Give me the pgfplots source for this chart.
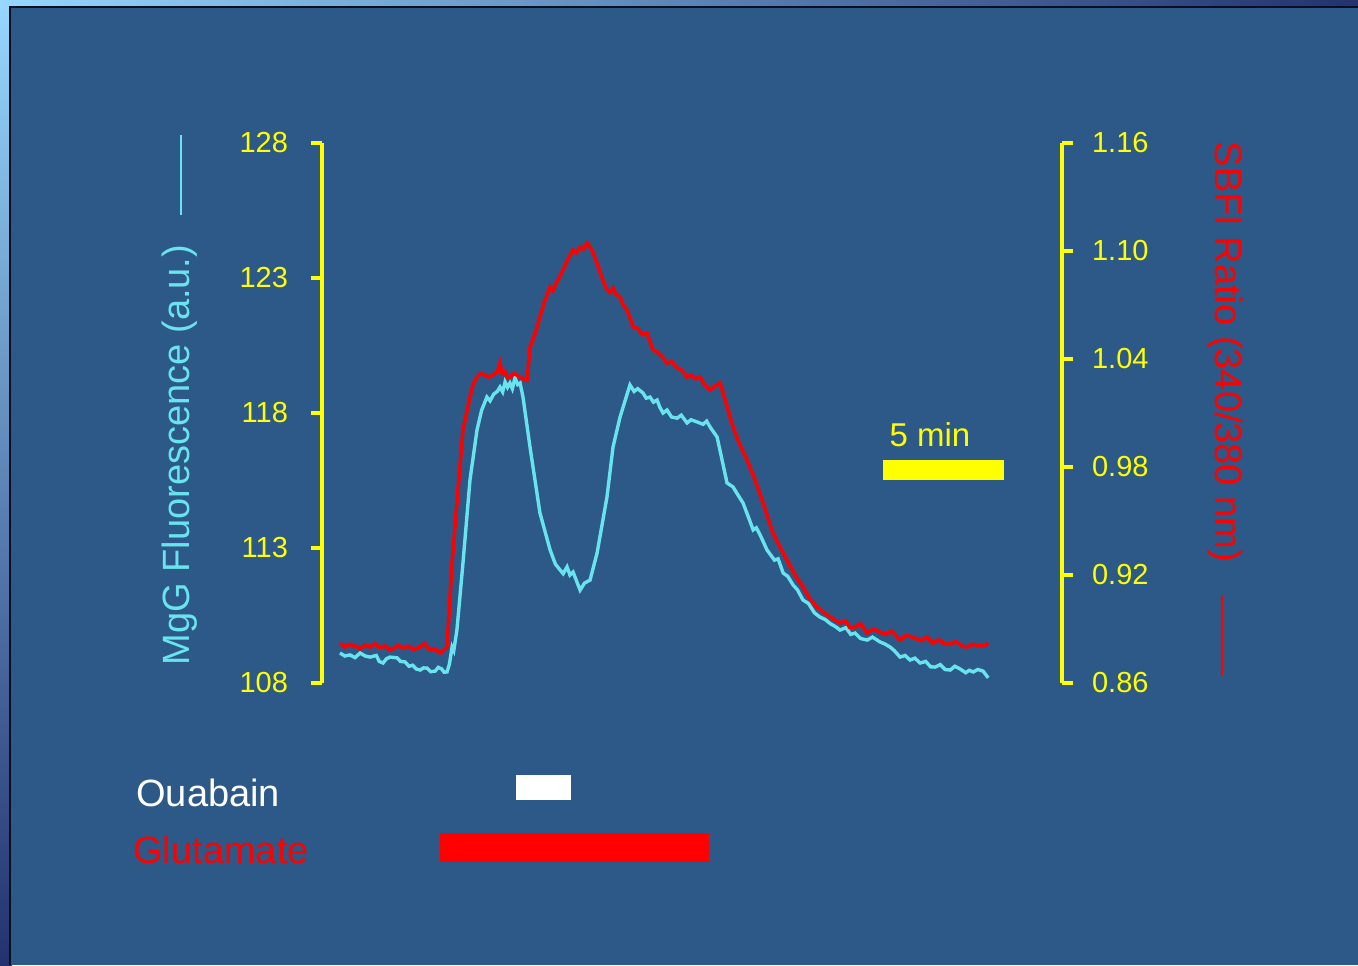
\documentclass[border=0pt]{standalone}
\usepackage{pgfplots}
\pgfplotsset{compat=1.18}
\usepackage{fontspec}
\setmainfont{Liberation Sans}
\definecolor{bg}{RGB}{44,89,135}
\definecolor{cy}{RGB}{105,228,238}
\definecolor{yl}{RGB}{255,255,0}
\definecolor{rd}{RGB}{255,0,0}
\definecolor{c1}{RGB}{150,215,255}
\definecolor{c2}{RGB}{85,140,245}
\definecolor{c3}{RGB}{35,50,110}

\pgfplotstableread{
t y
0 109.11
0.20 109.00
0.41 109.04
0.62 108.94
0.83 109.11
1.04 109.00
1.24 108.96
1.50 109.02
1.62 108.80
1.78 108.74
1.92 108.90
2.07 108.96
2.36 108.93
2.50 108.80
2.69 108.78
2.85 108.62
3.00 108.66
3.15 108.52
3.31 108.48
3.45 108.56
3.60 108.55
3.75 108.42
3.93 108.44
4.06 108.58
4.20 108.52
4.30 108.40
4.42 108.41
4.52 108.70
4.63 109.33
4.70 109.20
4.83 109.96
5.08 112.44
5.37 115.52
5.66 117.37
5.85 118.10
6.07 118.59
6.20 118.45
6.35 118.70
6.50 118.80
6.61 118.96
6.72 118.78
6.82 119.15
6.92 118.95
7.02 119.11
7.12 118.90
7.23 119.30
7.34 119.05
7.44 119.11
7.56 118.59
7.85 116.74
8.26 114.30
8.68 112.93
8.90 112.40
9.09 112.19
9.22 112.05
9.38 112.30
9.50 112.00
9.63 112.11
9.92 111.44
10.10 111.70
10.33 111.81
10.62 112.81
11.03 114.89
11.28 116.74
11.57 117.85
11.98 119.04
12.15 118.80
12.30 118.90
12.52 118.74
12.65 118.55
12.81 118.59
12.95 118.40
13.10 118.48
13.22 118.20
13.35 118.00
13.51 118.11
13.70 117.85
13.93 117.81
14.10 117.92
14.34 117.63
14.50 117.75
14.75 117.67
15.00 117.58
15.15 117.70
15.29 117.48
15.58 117.11
15.99 115.41
16.24 115.26
16.45 114.95
16.65 114.67
16.85 114.20
17.07 113.67
17.20 113.75
17.36 113.48
17.64 112.93
17.95 112.55
18.10 112.60
18.31 112.07
18.50 111.95
18.72 111.63
18.90 111.45
19.13 111.07
19.35 110.95
19.60 110.60
19.83 110.44
20.05 110.35
20.25 110.20
20.45 110.10
20.66 109.96
20.90 110.05
21.10 109.80
21.28 109.85
21.50 109.65
21.78 109.59
22.00 109.70
22.31 109.52
22.50 109.45
22.73 109.33
22.90 109.20
23.14 108.96
23.35 109.02
23.55 108.85
23.75 108.92
23.97 108.74
24.20 108.80
24.40 108.60
24.59 108.59
24.80 108.68
25.00 108.50
25.21 108.48
25.40 108.62
25.62 108.52
25.85 108.38
26.00 108.47
26.16 108.41
26.35 108.50
26.57 108.44
26.78 108.19
}\mgg

\pgfplotstableread{
t y
0 0.8822
0.20 0.8800
0.40 0.8815
0.62 0.8806
0.85 0.8790
1.04 0.8812
1.24 0.8800
1.45 0.8818
1.65 0.8795
1.86 0.8806
2.05 0.8785
2.20 0.8790
2.40 0.8810
2.60 0.8794
2.85 0.8805
3.05 0.8785
3.31 0.8800
3.50 0.8820
3.72 0.8783
3.90 0.8790
4.13 0.8767
4.30 0.8785
4.42 0.8800
4.63 0.9267
4.83 0.9600
5.08 1.0006
5.37 1.0189
5.50 1.0260
5.66 1.0300
5.80 1.0320
5.99 1.0311
6.15 1.0300
6.32 1.0311
6.50 1.0330
6.61 1.0378
6.70 1.0320
6.82 1.0328
6.92 1.0295
7.02 1.0300
7.20 1.0320
7.36 1.0306
7.55 1.0290
7.73 1.0283
7.85 1.0467
8.06 1.0540
8.26 1.0633
8.45 1.0720
8.68 1.0800
8.80 1.0780
8.93 1.0822
9.05 1.0850
9.21 1.0894
9.40 1.0950
9.63 1.1006
9.78 1.0990
9.92 1.1022
10.05 1.1010
10.21 1.1044
10.41 1.1006
10.62 1.0933
10.80 1.0860
11.03 1.0783
11.15 1.0770
11.28 1.0794
11.40 1.0760
11.57 1.0744
11.70 1.0700
11.86 1.0672
11.95 1.0640
12.11 1.0578
12.30 1.0570
12.50 1.0535
12.69 1.0544
12.80 1.0500
12.93 1.0450
13.10 1.0440
13.35 1.0406
13.51 1.0378
13.70 1.0385
13.93 1.0350
14.10 1.0340
14.34 1.0300
14.50 1.0310
14.70 1.0290
14.88 1.0300
15.05 1.0260
15.29 1.0228
15.50 1.0250
15.70 1.0267
15.83 1.0211
16.05 1.0110
16.24 1.0022
16.50 0.9930
16.82 0.9839
17.15 0.9728
17.48 0.9600
17.70 0.9510
17.89 0.9433
18.20 0.9350
18.47 0.9283
18.80 0.9200
19.13 0.9133
19.40 0.9070
19.71 0.9022
20.00 0.8990
20.25 0.8967
20.45 0.8950
20.66 0.8933
20.90 0.8945
21.05 0.8910
21.28 0.8911
21.50 0.8930
21.78 0.8878
22.05 0.8900
22.31 0.8883
22.55 0.8870
22.80 0.8890
23.14 0.8839
23.40 0.8865
23.76 0.8850
24.00 0.8835
24.25 0.8855
24.50 0.8822
24.75 0.8840
25.00 0.8815
25.21 0.8817
25.45 0.8830
25.70 0.8805
25.91 0.8800
26.15 0.8815
26.45 0.8806
26.65 0.8810
26.78 0.8822
}\sbfi

\begin{document}
\begin{tikzpicture}
\useasboundingbox (0,0) rectangle (679pt,482.5pt);
% background
\shade[top color=c1, middle color=c2, bottom color=c3] (0,0) rectangle (6pt,482.5pt);
\shade[left color=c1, middle color=c2, right color=c3] (0,477.5pt) rectangle (679pt,482.5pt);
\fill[black!70!c3] (4.5pt,0) rectangle (679pt,479.5pt);
\fill[bg] (5.5pt,0) rectangle (679pt,478.5pt);

\pgfplotsset{
  common/.style={
    at={(161pt,141pt)}, anchor=south west,
    scale only axis, width=370pt, height=270pt,
    xmin=-0.744, xmax=29.83,
    axis x line=none,
    clip=false,
    tick align=outside,
    major tick length=5.5pt,
    axis line style={draw=yl, line width=1.8pt, -},
    every outer y axis line/.append style={draw=yl, line width=1.8pt},
    major tick style={draw=yl, line width=1.8pt},
    yticklabel style={text=yl, font=\fontsize{14.5}{16}\selectfont},
    /pgf/number format/assume math mode=true,
  }
}

\begin{axis}[common,
  axis y line*=left,
  ymin=108, ymax=128,
  ytick={108,113,118,123,128},
  yticklabel style={xshift=-8pt},
]
\addplot[cy, line width=1.7pt] table[x=t,y=y] {\mgg};
% Ouabain bar
\addplot[fill=white, draw=none] coordinates {(7.27,104.59) (9.55,104.59) (9.55,103.67) (7.27,103.67)} --cycle;
% Glutamate bar
\addplot[fill=rd, draw=none] coordinates {(4.13,102.44) (15.25,102.44) (15.25,101.37) (4.13,101.37)} --cycle;
% 5 min scale bar
\addplot[fill=yl, draw=none] coordinates {(22.44,116.26) (27.44,116.26) (27.44,115.52) (22.44,115.52)} --cycle;
\end{axis}

\begin{axis}[common,
  axis y line*=right,
  ymin=0.86, ymax=1.16,
  ytick={0.86,0.92,0.98,1.04,1.10,1.16},
  yticklabel style={xshift=6pt, /pgf/number format/.cd, fixed, fixed zerofill, precision=2},
]
\addplot[rd, line width=1.8pt] table[x=t,y=y] {\sbfi};
\end{axis}

% labels
\node[rotate=90, text=cy, font=\fontsize{19}{22}\selectfont] at (90pt,255pt) {MgG Fluorescence (a.u.)};
\draw[cy, line width=1.4pt] (90.5pt,415pt) -- (90.5pt,375pt);
\node[rotate=-90, text=rd, font=\fontsize{19}{22}\selectfont] at (612.5pt,306.5pt) {SBFI Ratio (340/380 nm)};
\draw[rd, line width=1.4pt] (611pt,185pt) -- (611pt,145pt);
\node[text=yl, font=\fontsize{16.5}{19}\selectfont] at (465pt,265pt) {5 min};
\node[anchor=west, inner sep=0pt, text=white, font=\fontsize{19}{22}\selectfont] at (68pt,86pt) {Ouabain};
\node[anchor=west, inner sep=0pt, text=rd, font=\fontsize{19}{22}\selectfont] at (66.5pt,57.5pt) {Glutamate};
\end{tikzpicture}
\end{document}
